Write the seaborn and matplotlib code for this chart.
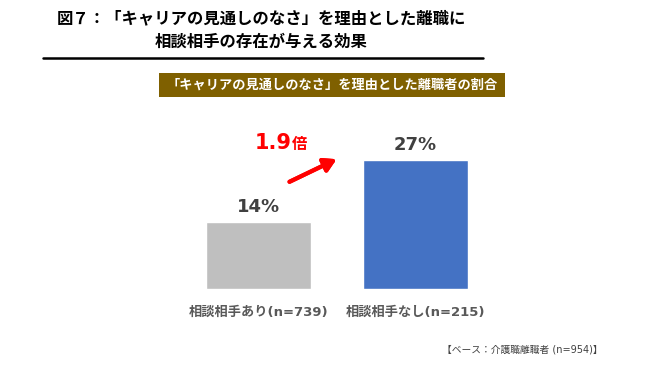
import seaborn as sns
import matplotlib.pyplot as plt
import pandas as pd

# data
groups = ["相談相手あり(n=739)", "相談相手なし(n=215)"]
rates = [14, 27]
bar_colors = ["#BFBFBF", "#4472C4"]
ratio_label = "1.9"

title = "図７：「キャリアの見通しのなさ」を理由とした離職に\n相談相手の存在が与える効果"
subtitle = "「キャリアの見通しのなさ」を理由とした離職者の割合"
note = "【ベース：介護職離職者 (n=954)】"

sns.set_theme(style="white")
plt.rcParams["font.family"] = ["Noto Sans CJK JP", "DejaVu Sans"]
latin_first = ["DejaVu Sans", "Noto Sans CJK JP"]

W, H = 649, 369
fig = plt.figure(figsize=(W / 100, H / 100), dpi=100)


def fx(x):
    return x / W


def fy(y):
    return 1 - y / H


df = pd.DataFrame({"group": groups, "rate": rates})

# axes placed so that bars sit where they are in the reference
ax = fig.add_axes([fx(180), fy(289), fx(314), 143.4 / H])
sns.barplot(data=df, x="group", y="rate", hue="group", palette=bar_colors,
            width=0.67, legend=False, ax=ax, saturation=1)
ax.set_xlim(-0.5, 1.5)
ax.set_ylim(0, 30)
sns.despine(ax=ax, left=True, bottom=True)
ax.set_yticks([])
ax.set_xlabel("")
ax.set_ylabel("")
ax.tick_params(axis="x", length=0, pad=12)
for lab in ax.get_xticklabels():
    lab.set_fontsize(9.5)
    lab.set_color("#595959")
    lab.set_fontweight("bold")
    lab.set_family(latin_first)

for i, v in enumerate(rates):
    ax.text(i, v + 1.3, f"{v}%", ha="center", va="bottom",
            fontsize=13, fontweight="bold", color="#404040",
            family="DejaVu Sans")

# title and rule
fig.text(fx(261), fy(30), title, ha="center", va="center", fontsize=11.8,
         fontweight="bold", color="black", linespacing=1.4)
fig.add_artist(plt.Line2D([fx(43), fx(483)], [fy(58), fy(58)],
                          color="black", lw=1.8))

# brown subtitle box
fig.add_artist(plt.Rectangle((fx(159), fy(97)), fx(346), 24 / H,
                             transform=fig.transFigure, facecolor="#7F6000",
                             edgecolor="none"))
fig.text(fx(332), fy(85), subtitle, ha="center", va="center", fontsize=9.5,
         fontweight="bold", color="white")

# ratio annotation
fig.text(fx(292), fy(149), ratio_label, ha="right", va="baseline",
         fontsize=15, fontweight="bold", color="#FF0000",
         family="DejaVu Sans")
fig.text(fx(292), fy(149), "倍", ha="left", va="baseline",
         fontsize=11, fontweight="bold", color="#FF0000")
fig.add_artist(plt.annotate(
    "", xy=(fx(339), fy(158)), xytext=(fx(287), fy(183)),
    xycoords="figure fraction", textcoords="figure fraction",
    arrowprops=dict(arrowstyle="-|>,head_length=0.6,head_width=0.35",
                    color="#FF0000", lw=3)))

fig.text(fx(603), fy(350), note, ha="right", va="center", fontsize=7,
         color="#404040", family=latin_first)

fig.savefig("out.png", dpi=100)
